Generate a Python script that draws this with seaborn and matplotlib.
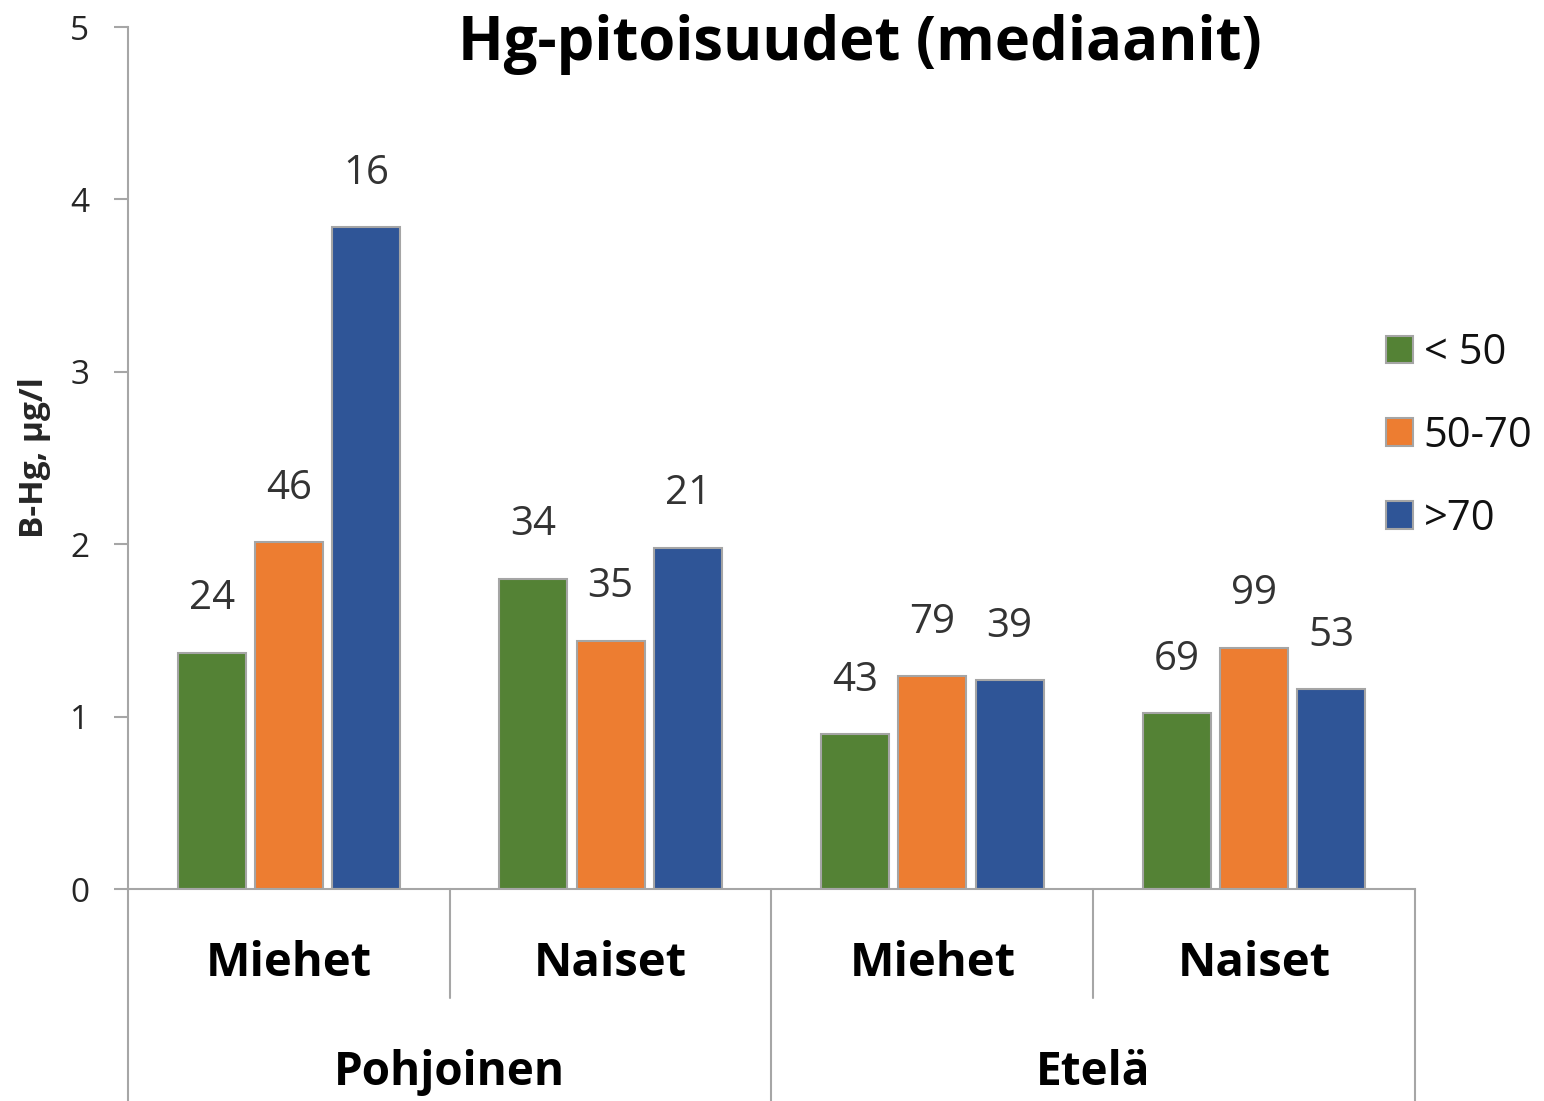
import matplotlib
matplotlib.use("Agg")
import matplotlib.pyplot as plt
import seaborn as sns
import pandas as pd

# ---- data ----
regions = ["Pohjoinen", "Pohjoinen", "Etelä", "Etelä"]
sexes = ["Miehet", "Naiset", "Miehet", "Naiset"]
age_groups = ["< 50", "50-70", ">70"]
values_lt50 = [1.37, 1.80, 0.90, 1.02]
values_50_70 = [2.01, 1.44, 1.235, 1.40]
values_gt70 = [3.84, 1.98, 1.21, 1.16]
counts_lt50 = [24, 34, 43, 69]
counts_50_70 = [46, 35, 79, 99]
counts_gt70 = [16, 21, 39, 53]
colors = ["#548235", "#ED7D31", "#2F5597"]

series_vals = [values_lt50, values_50_70, values_gt70]
series_counts = [counts_lt50, counts_50_70, counts_gt70]
cat_keys = [f"{r}|{s}" for r, s in zip(regions, sexes)]
rows = []
for g, vals in zip(age_groups, series_vals):
    for k, v in zip(cat_keys, vals):
        rows.append({"cat": k, "age": g, "value": v})
df = pd.DataFrame(rows)

sns.set_theme(style="white")
plt.rcParams["font.family"] = ["Open Sans", "DejaVu Sans"]

fig = plt.figure(figsize=(15.44, 11.01), dpi=100)
ax = fig.add_axes([128/1544, 212/1101, (1415-128)/1544, (889-27)/1101])

sns.barplot(data=df, x="cat", y="value", hue="age", order=cat_keys,
            hue_order=age_groups, palette=colors, saturation=1,
            width=0.72, gap=0.12, edgecolor="#A5A5A5", linewidth=1.5,
            ax=ax, legend=True)

ax.set_xlim(-0.5, 3.5)
ax.set_ylim(0, 5)
ax.set_yticks([0, 1, 2, 3, 4, 5])
ax.tick_params(axis="y", which="both", left=True, length=10, width=1.5,
               color="#A6A6A6", labelsize=24, labelcolor="#262626", pad=18)
ax.tick_params(axis="x", bottom=False, labelbottom=False)
ax.set_xlabel("")
ax.set_ylabel("B-Hg, µg/l", fontsize=24, fontweight="bold", labelpad=14)
for sp in ["top", "right"]:
    ax.spines[sp].set_visible(False)
for sp in ["left", "bottom"]:
    ax.spines[sp].set_color("#A6A6A6")
    ax.spines[sp].set_linewidth(1.5)

# data labels
for cont, cnts in zip(ax.containers, series_counts):
    ax.bar_label(cont, labels=[str(c) for c in cnts], padding=24,
                 fontsize=29, color="#333333")

# multi-level category axis
trans = ax.get_xaxis_transform()
line_kw = dict(color="#A6A6A6", lw=1.5, clip_on=False, transform=trans)
for i in range(len(cat_keys) + 1):
    x = i - 0.5
    if i % 2 == 0:
        ax.plot([x, x], [0, -0.25], **line_kw)
    else:
        ax.plot([x, x], [0, -0.1265], **line_kw)
for i, s in enumerate(sexes):
    ax.text(i, -0.087, s, transform=trans, ha="center", va="center",
            fontsize=34, fontweight="bold", color="black")
for j in range(0, len(regions), 2):
    ax.text(j + 0.5, -0.213, regions[j], transform=trans, ha="center",
            va="center", fontsize=33, fontweight="bold", color="black")

# title
fig.text(0.557, 0.960, "Hg-pitoisuudet (mediaanit)", ha="center", va="center",
         fontsize=43, fontweight="bold", color="black")

# legend
handles, labels = ax.get_legend_handles_labels()
ax.legend(handles, labels, loc="center left",
          bbox_to_anchor=(1386/1544, 1 - 436/1101),
          bbox_transform=fig.transFigure, frameon=False, fontsize=30,
          handlelength=0.65, handleheight=0.65, handletextpad=0.25,
          labelspacing=0.98, borderpad=0, borderaxespad=0)
for t in ax.get_legend().get_texts():
    t.set_color("#111111")

fig.savefig("out.png", dpi=100)
